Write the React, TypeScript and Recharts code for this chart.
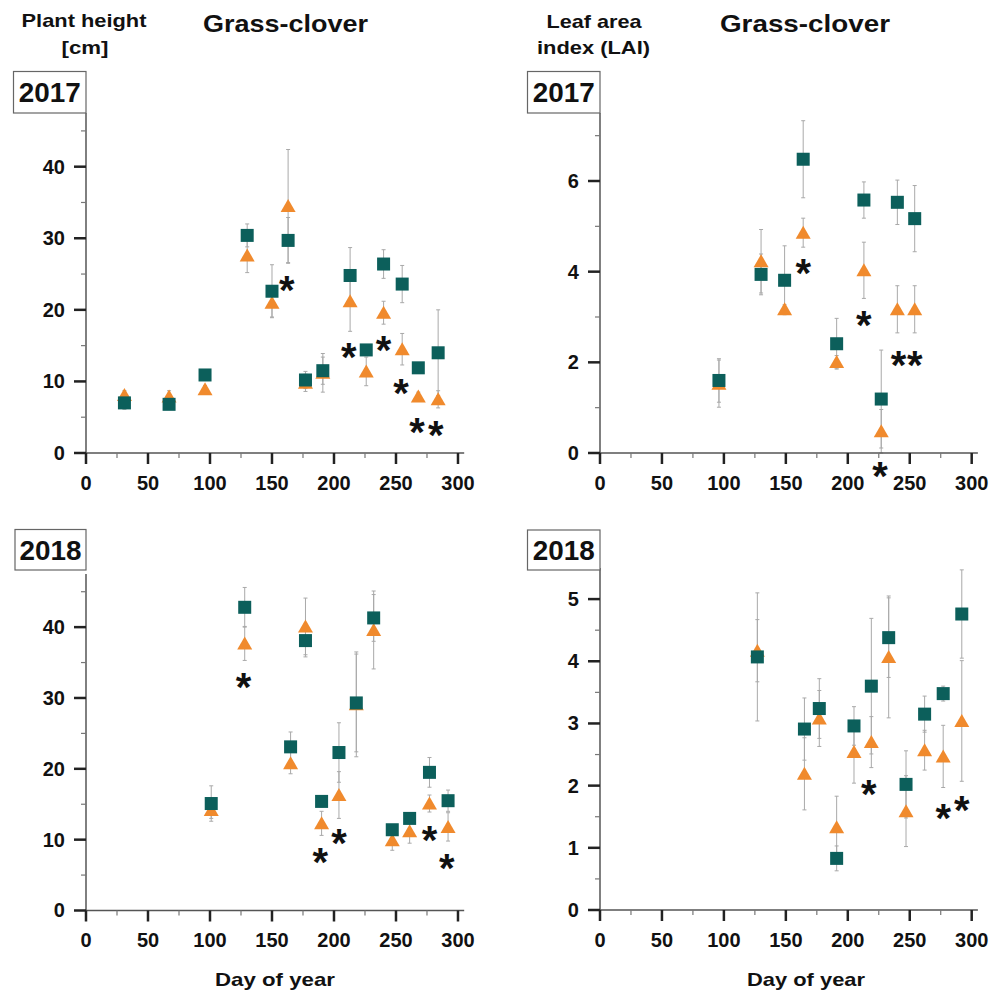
import React from 'react';
import { ScatterChart, Scatter, XAxis, YAxis, ErrorBar, ReferenceDot } from 'recharts';

const TEAL = '#0c5f5b';
const ORANGE = '#f08a2d';
const FONT = '"Liberation Sans", Arial, Helvetica, sans-serif';

// X axis ticks (day of year)
const xMajorTicks = [0, 50, 100, 150, 200, 250, 300];
const xMinorTicks = [25, 75, 125, 175, 225, 275];

// Plant height 2017
const ph17Days = [31, 67, 96, 130, 150, 163, 177, 191, 213, 226, 240, 255, 268, 284];
const ph17Sq = [7.0, 6.8, 10.9, 30.4, 22.6, 29.7, 10.2, 11.5, 24.8, 14.4, 26.4, 23.6, 11.9, 14.0];
const ph17SqErr = [0.9, 0.7, 0.6, 1.6, 3.7, 3.2, 1.2, 1.9, 3.9, 0.6, 2.0, 2.6, 0.7, 6.0];
const ph17Tri = [8.1, 7.9, 8.9, 27.6, 21.0, 34.5, 9.8, 11.2, 21.2, 11.4, 19.6, 14.5, 7.9, 7.5];
const ph17TriErr = [0.6, 0.8, 0.5, 2.4, 2.0, 7.9, 1.2, 2.7, 4.2, 2.0, 1.6, 2.2, 0.6, 1.2];
const ph17StarX = [162, 212, 240, 254, 267, 282];
const ph17StarY = [23.9, 14.5, 15.5, 9.5, 4.1, 3.6];

// LAI 2017
const lai17Days = [96, 130, 149, 164, 191, 213, 227, 240, 254];
const lai17Sq = [1.6, 3.94, 3.81, 6.48, 2.41, 5.58, 1.19, 5.53, 5.17];
const lai17SqErr = [0.48, 0.45, 0.76, 0.85, 0.56, 0.4, 1.08, 0.49, 0.73];
const lai17Tri = [1.53, 4.23, 3.17, 4.86, 2.01, 4.03, 0.48, 3.17, 3.17];
const lai17TriErr = [0.52, 0.7, 0.1, 0.32, 0.14, 0.62, 0.48, 0.52, 0.52];
const lai17StarX = [164, 213, 241, 254, 226];
const lai17StarY = [4.14, 2.99, 2.12, 2.12, -0.34];

// Plant height 2018
const ph18Days = [101, 128, 165, 177, 190, 204, 218, 232, 247, 261, 277, 292];
const ph18Sq = [15.1, 42.8, 23.1, 38.1, 15.4, 22.3, 29.3, 41.3, 11.4, 13.0, 19.5, 15.5];
const ph18SqErr = [2.5, 2.8, 2.1, 2.3, 0.8, 4.2, 6.9, 3.3, 0.5, 0.6, 2.1, 1.5];
const ph18Tri = [14.2, 37.7, 20.8, 40.1, 12.3, 16.3, 29.1, 39.6, 9.9, 11.2, 15.1, 11.8];
const ph18TriErr = [1.2, 2.4, 1.5, 4.0, 1.7, 3.3, 7.4, 5.5, 1.4, 1.7, 1.2, 2.0];
const ph18StarX = [127, 189, 204, 277, 291];
const ph18StarY = [32.7, 8.0, 10.6, 11.1, 7.1];

// LAI 2018
const lai18Days = [127, 165, 177, 191, 205, 219, 233, 247, 262, 277, 292];
const lai18Sq = [4.07, 2.91, 3.24, 0.83, 2.96, 3.6, 4.38, 2.02, 3.15, 3.48, 4.76];
const lai18SqErr = [1.03, 0.5, 0.48, 0.2, 0.31, 1.09, 0.64, 0.54, 0.29, 0.12, 0.71];
const lai18Tri = [4.17, 2.19, 3.08, 1.33, 2.54, 2.7, 4.07, 1.59, 2.57, 2.47, 3.04];
const lai18TriErr = [0.5, 0.58, 0.45, 0.5, 0.5, 0.41, 0.98, 0.57, 0.32, 0.5, 0.97];
const lai18StarX = [217, 277, 292];
const lai18StarY = [1.99, 1.61, 1.73];

// Y ticks
const phMajor = [0, 10, 20, 30, 40];
const phMinor = [5, 15, 25, 35, 45];
const lai17Major = [0, 2, 4, 6];
const lai17Minor = [1, 3, 5, 7];
const lai18Major = [0, 1, 2, 3, 4, 5];
const lai18Minor = [0.5, 1.5, 2.5, 3.5, 4.5, 5.5];

const XMAX = 305;
const ML = 90, MT = 20, MR = 30, MB = 50;

const Square = (p: any) => (
  <rect x={p.cx - 6.5} y={p.cy - 6.5} width={13} height={13} fill={TEAL} />
);
const Triangle = (p: any) => (
  <polygon points={`${p.cx},${p.cy - 7} ${p.cx - 7.5},${p.cy + 6} ${p.cx + 7.5},${p.cy + 6}`} fill={ORANGE} />
);
const Star = (p: any) => (
  <text x={p.cx} y={p.cy + 22} textAnchor="middle" fontSize={40} fontWeight="bold" fontFamily={FONT} fill="#111">*</text>
);

const XTick = (p: any) => {
  const { x, y, payload } = p;
  const major = xMajorTicks.includes(payload.value);
  return (
    <g>
      <line x1={x} x2={x} y1={y} y2={y + (major ? 11 : 5)} stroke={major ? '#222' : '#777'} strokeWidth={major ? 2.5 : 1.2} />
      {major && (
        <text x={x} y={y + 37} textAnchor="middle" fontSize={20} fontWeight="bold" fontFamily={FONT} fill="#111">
          {payload.value}
        </text>
      )}
    </g>
  );
};

const makeYTick = (majors: number[]) => (p: any) => {
  const { x, y, payload } = p;
  const major = majors.includes(payload.value);
  return (
    <g>
      <line x1={x} x2={x - (major ? 12 : 5)} y1={y} y2={y} stroke={major ? '#222' : '#777'} strokeWidth={major ? 2.5 : 1.2} />
      {major && (
        <text x={x - 21} y={y + 7} textAnchor="end" fontSize={20} fontWeight="bold" fontFamily={FONT} fill="#111">
          {payload.value}
        </text>
      )}
    </g>
  );
};

type PanelProps = {
  left: number; top: number; plotW: number; plotH: number; yMax: number;
  days: number[]; sq: number[]; sqErr: number[]; tri: number[]; triErr: number[];
  starX: number[]; starY: number[]; yMajor: number[]; yMinor: number[];
};

const Panel = (props: PanelProps) => {
  const { left, top, plotW, plotH, yMax, days, sq, sqErr, tri, triErr, starX, starY, yMajor, yMinor } = props;
  const sqData = days.map((d, i) => ({ x: d, y: sq[i], e: sqErr[i] }));
  const triData = days.map((d, i) => ({ x: d, y: tri[i], e: triErr[i] }));
  const yTicks = [...yMajor, ...yMinor].sort((a, b) => a - b);
  const xTicks = [...xMajorTicks, ...xMinorTicks].sort((a, b) => a - b);
  const YTick = makeYTick(yMajor);
  return (
    <div style={{ position: 'absolute', left: left - ML, top: top - MT }}>
      <ScatterChart width={ML + plotW + MR} height={MT + plotH + MB} margin={{ left: ML - 1, top: MT, right: MR, bottom: MB - 1 }}>
        <XAxis
          type="number" dataKey="x" domain={[0, XMAX]} ticks={xTicks} interval={0} height={1}
          tickLine={false} tickSize={0} tickMargin={0} tick={<XTick />}
          axisLine={{ stroke: '#555', strokeWidth: 1.5 }} allowDecimals
        />
        <YAxis
          type="number" dataKey="y" domain={[0, yMax]} ticks={yTicks} interval={0} width={1}
          tickLine={false} tickSize={0} tickMargin={0} tick={<YTick />}
          axisLine={{ stroke: '#555', strokeWidth: 1.5 }} allowDecimals
        />
        <Scatter data={triData} shape={Triangle} isAnimationActive={false}>
          <ErrorBar dataKey="e" direction="y" width={2} stroke="#a9a9a9" strokeWidth={1} isAnimationActive={false} />
        </Scatter>
        <Scatter data={sqData} shape={Square} isAnimationActive={false}>
          <ErrorBar dataKey="e" direction="y" width={2} stroke="#a9a9a9" strokeWidth={1} isAnimationActive={false} />
        </Scatter>
        {starX.map((sx, i) => (
          <ReferenceDot key={i} x={sx} y={starY[i]} r={1} ifOverflow="visible" shape={Star} />
        ))}
      </ScatterChart>
    </div>
  );
};

const T = (p: any) => (
  <text x={p.x} y={p.y} textAnchor={p.anchor || 'middle'} fontSize={p.size} fontWeight="bold" fontFamily={FONT}
    fill="#111" textLength={p.len} lengthAdjust="spacingAndGlyphs">
    {p.children}
  </text>
);

const YearBox = (p: any) => (
  <g>
    <rect x={p.x} y={p.y} width={p.w} height={p.h} fill="#fff" stroke="#666" strokeWidth={1.2} />
    <T x={p.x + p.w / 2} y={p.y + 30} size={28} len={62}>{p.label}</T>
  </g>
);

export default function App() {
  return (
    <div style={{ position: 'absolute', left: 0, top: 0, width: 1005, height: 996, background: '#fff' }}>
      <Panel left={86} top={113} plotW={XMAX * 1.24} plotH={340} yMax={47.5}
        days={ph17Days} sq={ph17Sq} sqErr={ph17SqErr} tri={ph17Tri} triErr={ph17TriErr}
        starX={ph17StarX} starY={ph17StarY} yMajor={phMajor} yMinor={phMinor} />
      <Panel left={600} top={113} plotW={XMAX * 1.239} plotH={340} yMax={7.5}
        days={lai17Days} sq={lai17Sq} sqErr={lai17SqErr} tri={lai17Tri} triErr={lai17TriErr}
        starX={lai17StarX} starY={lai17StarY} yMajor={lai17Major} yMinor={lai17Minor} />
      <Panel left={86} top={573.5} plotW={XMAX * 1.24} plotH={336.5} yMax={47.5}
        days={ph18Days} sq={ph18Sq} sqErr={ph18SqErr} tri={ph18Tri} triErr={ph18TriErr}
        starX={ph18StarX} starY={ph18StarY} yMajor={phMajor} yMinor={phMinor} />
      <Panel left={600} top={568} plotW={XMAX * 1.239} plotH={342} yMax={5.5}
        days={lai18Days} sq={lai18Sq} sqErr={lai18SqErr} tri={lai18Tri} triErr={lai18TriErr}
        starX={lai18StarX} starY={lai18StarY} yMajor={lai18Major} yMinor={lai18Minor} />
      <svg width={1005} height={996} style={{ position: 'absolute', left: 0, top: 0, pointerEvents: 'none' }}>
        <T x={84} y={27} size={19} len={125}>Plant height</T>
        <T x={85} y={54} size={19} len={47}>[cm]</T>
        <T x={285.5} y={32} size={24} len={165}>Grass-clover</T>
        <T x={594} y={27.5} size={19} len={95}>Leaf area</T>
        <T x={593.5} y={54} size={19} len={113}>index (LAI)</T>
        <T x={805} y={32} size={24} len={170}>Grass-clover</T>
        <YearBox x={13.5} y={71.5} w={72.5} h={41.5} label="2017" />
        <YearBox x={527.5} y={71.5} w={72.5} h={41.5} label="2017" />
        <YearBox x={15} y={529.5} w={71} h={40.5} label="2018" />
        <YearBox x={527.5} y={530} w={72.5} h={40} label="2018" />
        <T x={275} y={986} size={19} len={120}>Day of year</T>
        <T x={806} y={986} size={19} len={118}>Day of year</T>
      </svg>
    </div>
  );
}
